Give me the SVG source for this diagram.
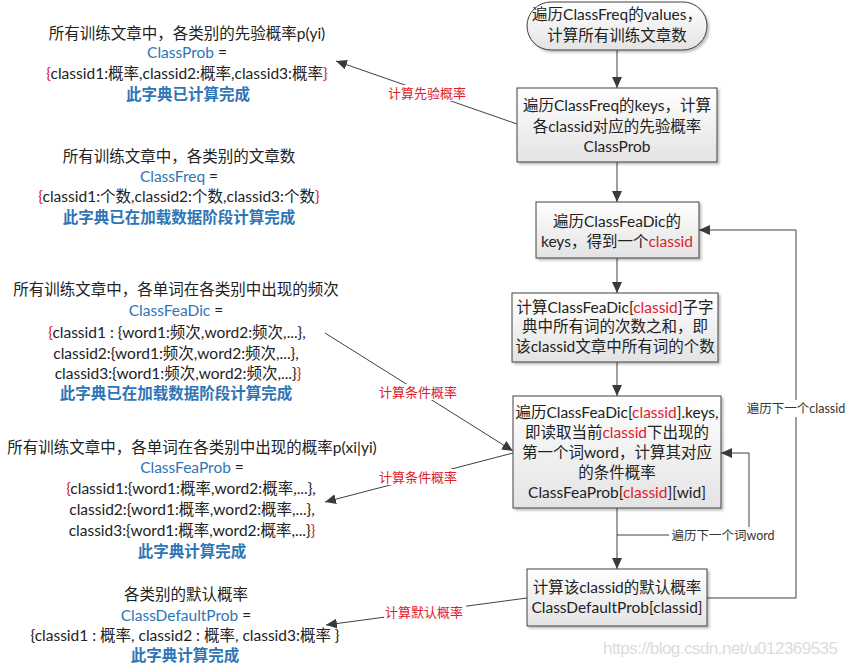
<svg xmlns="http://www.w3.org/2000/svg" width="847" height="667" viewBox="0 0 847 667">
<defs>
<linearGradient id="gf" x1="0" y1="0" x2="0" y2="1">
<stop offset="0" stop-color="#ffffff"/>
<stop offset="1" stop-color="#e3e3e3"/>
</linearGradient>
<filter id="sh" x="-10%" y="-10%" width="130%" height="130%">
<feDropShadow dx="2" dy="2" stdDeviation="1.2" flood-color="#000" flood-opacity="0.25"/>
</filter>
<marker id="ar" markerWidth="12" markerHeight="10" refX="11" refY="5" orient="auto" markerUnits="userSpaceOnUse">
<path d="M0,0 L11,5 L0,10 Z" fill="#3a3a3a"/>
</marker>
<style>
text{font-family:Lato,"Noto Sans CJK SC",sans-serif;font-size:15.5px;fill:#222}
.c{text-anchor:middle}
.b{fill:#2e75b6}
.bb{fill:#2e75b6;font-weight:bold}
.r{fill:#e0202a}
.lbl{fill:#e0202a;font-size:13px;text-anchor:middle}
.lp{font-size:12.5px;text-anchor:middle;fill:#333}
.box{fill:url(#gf);stroke:#404040;stroke-width:1;filter:url(#sh)}
.ln{fill:none;stroke:#404040;stroke-width:1}
.wm{font-family:"Liberation Sans",sans-serif;font-size:17px;fill:#dcdcdc}
</style>
</defs>
<rect width="847" height="667" fill="#fff"/>

<g id="connectors">
<line class="ln" x1="617" y1="50" x2="617" y2="88" marker-end="url(#ar)"/>
<line class="ln" x1="617" y1="162" x2="617" y2="202" marker-end="url(#ar)"/>
<line class="ln" x1="617" y1="258" x2="617" y2="293" marker-end="url(#ar)"/>
<line class="ln" x1="617" y1="362" x2="617" y2="396" marker-end="url(#ar)"/>
<line class="ln" x1="617" y1="508" x2="617" y2="569" marker-end="url(#ar)"/>
<polyline class="ln" points="617,535 749,535 749,453 721,453" marker-end="url(#ar)"/>
<polyline class="ln" points="707,598 796,598 796,230 699,230" marker-end="url(#ar)"/>
<line class="ln" x1="517" y1="124" x2="336" y2="61" marker-end="url(#ar)"/>
<line class="ln" x1="325" y1="333" x2="513" y2="451" marker-end="url(#ar)"/>
<line class="ln" x1="513" y1="453" x2="325" y2="502" marker-end="url(#ar)"/>
<line class="ln" x1="527" y1="598" x2="326" y2="625" marker-end="url(#ar)"/>
<rect x="669" y="527" width="109" height="17" fill="#fff"/>
<text class="lp" x="723" y="540">遍历下一个词word</text>
<rect x="745" y="400" width="102" height="17" fill="#fff"/>
<text class="lp" x="796" y="413">遍历下一个classid</text>
<rect x="386" y="85" width="82" height="16" fill="#fff"/>
<text class="lbl" x="427" y="98">计算先验概率</text>
<rect x="378" y="384" width="82" height="16" fill="#fff"/>
<text class="lbl" x="418" y="397">计算条件概率</text>
<rect x="378" y="469" width="82" height="16" fill="#fff"/>
<text class="lbl" x="418" y="482">计算条件概率</text>
<rect x="384" y="604" width="82" height="16" fill="#fff"/>
<text class="lbl" x="424" y="617">计算默认概率</text>
</g>

<g id="start">
<rect class="box" x="527" y="2" width="180" height="48" rx="24" ry="24"/>
<text class="c" x="617" y="20">遍历ClassFreq的values，</text>
<text class="c" x="617" y="41">计算所有训练文章数</text>
</g>

<g id="calcClassProb">
<rect class="box" x="517" y="88" width="200" height="74"/>
<text class="c" x="617" y="111">遍历ClassFreq的keys，计算</text>
<text class="c" x="617" y="132">各classid对应的先验概率</text>
<text class="c" x="617" y="152">ClassProb</text>
</g>

<g id="iterClassid">
<rect class="box" x="536" y="202" width="163" height="56"/>
<text class="c" x="617" y="227">遍历ClassFeaDic的</text>
<text class="c" x="617" y="247">keys，得到一个<tspan class="r">classid</tspan></text>
</g>

<g id="sumWords">
<rect class="box" x="512" y="293" width="206" height="69"/>
<text class="c" x="615" y="313">计算ClassFeaDic[<tspan class="r">classid</tspan>]子字</text>
<text class="c" x="615" y="332">典中所有词的次数之和，即</text>
<text class="c" x="615" y="352">该classid文章中所有词的个数</text>
</g>

<g id="iterWord">
<rect class="box" x="513" y="396" width="208" height="112"/>
<text class="c" x="617" y="418">遍历ClassFeaDic[<tspan class="r">classid</tspan>].keys,</text>
<text class="c" x="617" y="438">即读取当前<tspan class="r">classid</tspan>下出现的</text>
<text class="c" x="617" y="458">第一个词word，计算其对应</text>
<text class="c" x="617" y="478">的条件概率</text>
<text class="c" x="617" y="498">ClassFeaProb[<tspan class="r">classid</tspan>][wid]</text>
</g>

<g id="defaultProb">
<rect class="box" x="527" y="569" width="180" height="57"/>
<text class="c" x="617" y="593">计算该classid的默认概率</text>
<text class="c" x="617" y="613">ClassDefaultProb[classid]</text>
</g>

<g id="dictClassProb">
<text class="c" x="187" y="39">所有训练文章中，各类别的先验概率p(yi)</text>
<text class="c" x="187" y="58"><tspan class="b">ClassProb</tspan> =</text>
<text class="c" x="187" y="79"><tspan class="r">{</tspan>classid1:概率,classid2:概率,classid3:概率<tspan class="r">}</tspan></text>
<text class="c bb" x="188" y="100">此字典已计算完成</text>
</g>

<g id="dictClassFreq">
<text class="c" x="179" y="162">所有训练文章中，各类别的文章数</text>
<text class="c" x="179" y="182"><tspan class="b">ClassFreq</tspan> =</text>
<text class="c" x="179" y="202"><tspan class="r">{</tspan>classid1:个数,classid2:个数,classid3:个数<tspan class="r">}</tspan></text>
<text class="c bb" x="179" y="223">此字典已在加载数据阶段计算完成</text>
</g>

<g id="dictClassFeaDic">
<text class="c" x="176" y="295">所有训练文章中，各单词在各类别中出现的频次</text>
<text class="c" x="176" y="316"><tspan class="b">ClassFeaDic</tspan> =</text>
<text class="c" x="177" y="338"><tspan class="r">{</tspan>classid1 : {word1:频次,word2:频次,...},</text>
<text class="c" x="176" y="359">classid2:{word1:频次,word2:频次,...},</text>
<text class="c" x="178" y="379">classid3:{word1:频次,word2:频次,...}<tspan class="r">}</tspan></text>
<text class="c bb" x="176" y="399">此字典已在加载数据阶段计算完成</text>
</g>

<g id="dictClassFeaProb">
<text class="c" x="192" y="453">所有训练文章中，各单词在各类别中出现的概率p(xi|yi)</text>
<text class="c" x="192" y="473"><tspan class="b">ClassFeaProb</tspan> =</text>
<text class="c" x="191" y="494"><tspan class="r">{</tspan>classid1:{word1:概率,word2:概率,...},</text>
<text class="c" x="192" y="515">classid2:{word1:概率,word2:概率,...},</text>
<text class="c" x="192" y="536">classid3:{word1:概率,word2:概率,...}<tspan class="r">}</tspan></text>
<text class="c bb" x="192" y="557">此字典计算完成</text>
</g>

<g id="dictClassDefaultProb">
<text class="c" x="186" y="600">各类别的默认概率</text>
<text class="c" x="186" y="621"><tspan class="b">ClassDefaultProb</tspan>  =</text>
<text class="c" x="185" y="641">{classid1 : 概率, classid2 : 概率, classid3:概率 }</text>
<text class="c bb" x="185" y="661">此字典计算完成</text>
</g>

<text class="wm" x="603" y="654" textLength="235">https://blog.csdn.net/u012369535</text>
</svg>
